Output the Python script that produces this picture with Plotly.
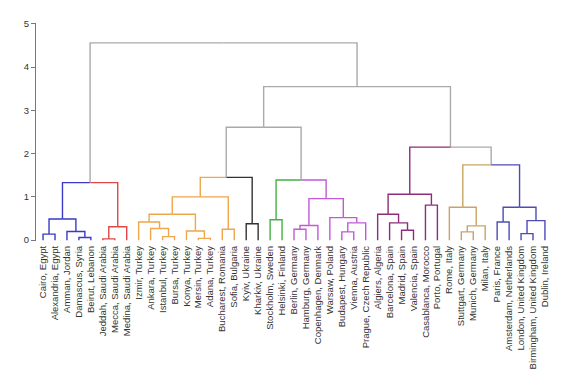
import plotly.graph_objects as go

# ---- data ----
leaf_labels = [
    "Cairo, Egypt", "Alexandria, Egypt", "Amman, Jordan", "Damascus, Syria", "Beirut, Lebanon",
    "Jeddah, Saudi Arabia", "Mecca, Saudi Arabia", "Medina, Saudi Arabia",
    "Izmir, Turkey", "Ankara, Turkey", "Istanbul, Turkey", "Bursa, Turkey", "Konya, Turkey",
    "Mersin, Turkey", "Adana, Turkey", "Bucharest, Romania", "Sofia, Bulgaria",
    "Kyiv, Ukraine", "Kharkiv, Ukraine", "Stockholm, Sweden", "Helsinki, Finland",
    "Berlin, Germany", "Hamburg, Germany", "Copenhagen, Denmark", "Warsaw, Poland",
    "Budapest, Hungary", "Vienna, Austria", "Prague, Czech Republic",
    "Algiers, Algeria", "Barcelona, Spain", "Madrid, Spain", "Valencia, Spain",
    "Casablanca, Morocco", "Porto, Portugal", "Rome, Italy", "Stuttgart, Germany",
    "Munich, Germany", "Milan, Italy", "Paris, France", "Amsterdam, Netherlands",
    "London, United Kingdom", "Birmingham, United Kingdom", "Dublin, Ireland",
]
n = len(leaf_labels)

# merges (scipy-linkage style): ids >= n refer to earlier merges (id = n + k)
merge_left = [0, 3, 2, 43, 5, 47, 46, 10, 9, 8, 13, 12, 52, 15, 55, 17, 57, 19, 21, 61,
              25, 63, 24, 62, 60, 59, 30, 29, 28, 32, 71, 35, 74, 34, 38, 40, 78, 77, 76, 73, 68, 49]
merge_right = [1, 4, 44, 45, 6, 7, 48, 11, 50, 51, 14, 53, 54, 16, 56, 18, 58, 20, 22, 23,
               26, 27, 64, 65, 66, 67, 31, 69, 70, 33, 72, 36, 37, 75, 39, 41, 42, 79, 80, 81, 82, 83]
merge_height = [0.14, 0.06, 0.20, 0.49, 0.03, 0.31, 1.33, 0.08, 0.27, 0.42, 0.04, 0.21, 0.60,
                0.25, 1.00, 0.38, 1.45, 0.47, 0.25, 0.34, 0.19, 0.40, 0.52, 0.96, 1.39, 2.61,
                0.23, 0.40, 0.60, 0.81, 1.06, 0.19, 0.33, 0.76, 0.42, 0.15, 0.45, 0.76, 1.74,
                2.15, 3.55, 4.56]

# cluster roots (merge ids) and their colours
cluster_colors = {
    n + 3: "#3a3ac6",   # Egypt / Levant
    n + 5: "#e04848",   # Saudi Arabia
    n + 14: "#f0a64a",  # Turkey / Balkans
    n + 15: "#333333",  # Ukraine
    n + 17: "#44b044",  # Nordics
    n + 23: "#c25ad8",  # Central Europe
    n + 30: "#8e2c7c",  # Iberia / Maghreb
    n + 33: "#c8a466",  # Italy / South Germany
    n + 37: "#4c4cb4",  # NW Europe
}
above_color = "#aaaaaa"

# ---- layout of tree ----
node_x = {i: float(i) for i in range(n)}
node_h = {i: 0.0 for i in range(n)}
children = {}
for k, (a, b, h) in enumerate(zip(merge_left, merge_right, merge_height)):
    nid = n + k
    node_x[nid] = (node_x[a] + node_x[b]) / 2
    node_h[nid] = h
    children[nid] = (a, b)

node_color = {}
def paint(nid, col):
    node_color[nid] = col
    if nid in children:
        for c in children[nid]:
            paint(c, col)
for root, col in cluster_colors.items():
    paint(root, col)

segs = {}
for nid, (a, b) in children.items():
    for c in (a, b):
        col = node_color.get(c, above_color)
        xs, ys = segs.setdefault(col, ([], []))
        xs += [node_x[nid], node_x[c], node_x[c], None]
        ys += [node_h[nid], node_h[nid], node_h[c], None]

fig = go.Figure()
for col, (xs, ys) in segs.items():
    fig.add_trace(go.Scatter(x=xs, y=ys, mode="lines",
                             line=dict(color=col, width=1.4),
                             hoverinfo="skip", showlegend=False))

fig.update_layout(
    width=576, height=388,
    margin=dict(l=36, r=24, t=23, b=147),
    paper_bgcolor="white", plot_bgcolor="white",
    font=dict(family="Liberation Sans, Arial, sans-serif", color="#333333", size=9.5),
    xaxis=dict(range=[-0.59, n - 1 + 0.59], tickmode="array",
               tickvals=list(range(n)), ticktext=leaf_labels, tickangle=-90,
               showgrid=False, zeroline=False, showline=False, ticks="",
               tickfont=dict(size=9.5, color="#333333"), ticklabelstandoff=2),
    yaxis=dict(range=[-0.02, 5.02], tickvals=[0, 1, 2, 3, 4, 5],
               showgrid=False, zeroline=False, showline=True, linecolor="#777777",
               linewidth=1.2, ticks="outside", ticklen=4, tickcolor="#777777",
               tickfont=dict(size=9.5, color="#333333")),
)

fig.write_html("out.html")
